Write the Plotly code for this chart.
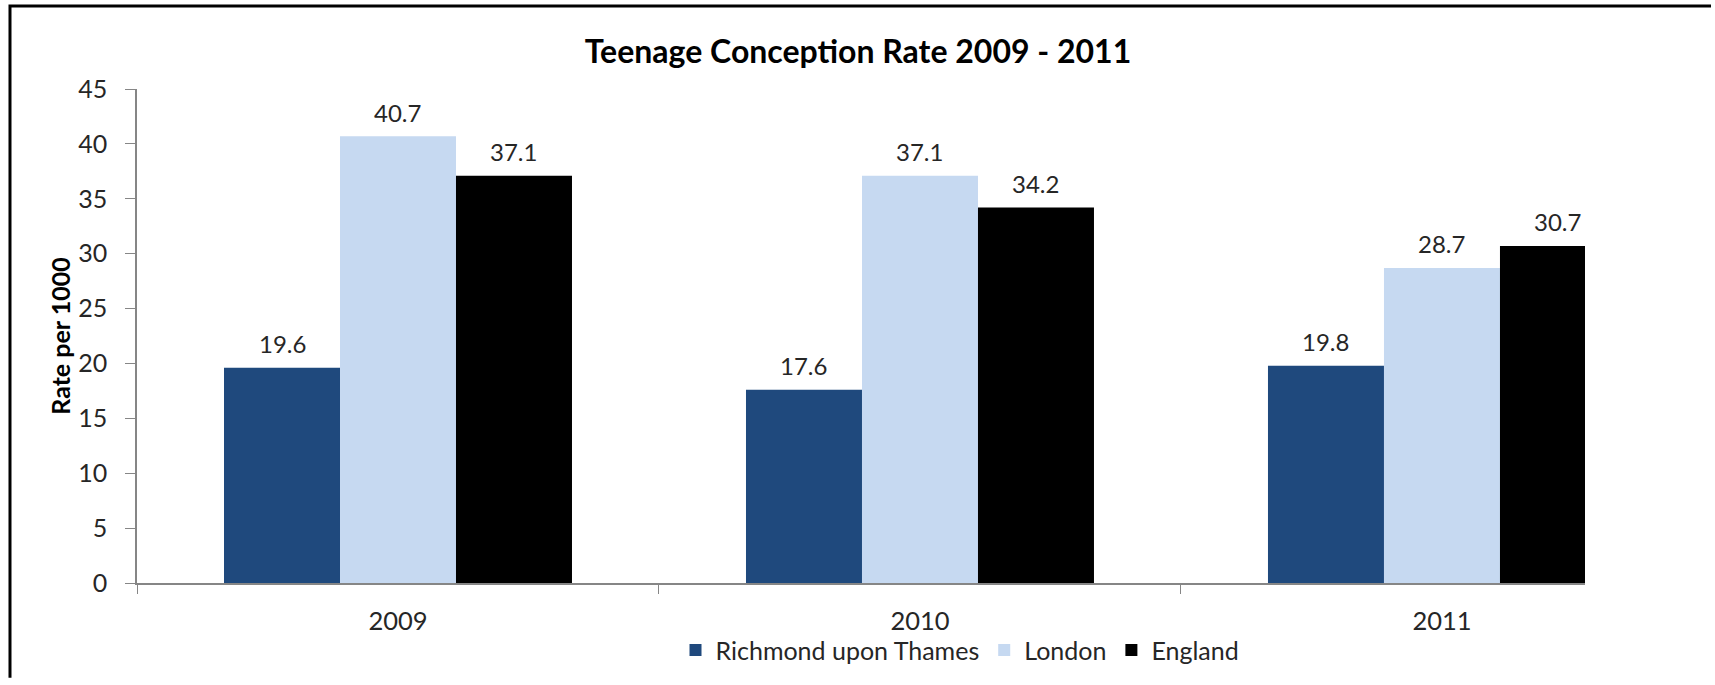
import plotly.graph_objects as go

# ---- data ----
years = ["2009", "2010", "2011"]
series_names = ["Richmond upon Thames", "London", "England"]
richmond = [19.6, 17.6, 19.8]
london = [40.7, 37.1, 28.7]
england = [37.1, 34.2, 30.7]
y_ticks = [0, 5, 10, 15, 20, 25, 30, 35, 40, 45]

colors = ["#1F497D", "#C6D9F1", "#000000"]
values = [richmond, london, england]

# ---- layout geometry (pixels) ----
W, H = 1715, 685
L, R, T, B = 137, 1585, 89, 589
FONT = "Lato"
TXT = "#262626"
AX = "#868686"
BARGAP = 1 / 3
n_series = len(series_names)
bar_w = (1 - BARGAP) / n_series


def pxx(x):
    return (x - L) / (R - L)


def pxy(y):
    return (B - y) / (B - T)


fig = go.Figure()
for name, vals, col in zip(series_names, values, colors):
    fig.add_trace(go.Bar(
        name=name, x=years, y=vals,
        marker=dict(color=col, line=dict(width=0)),
        hoverinfo="x+y+name",
    ))

# data labels above bars
annotations = []
for j, vals in enumerate(values):
    for i, v in enumerate(vals):
        annotations.append(dict(
            x=i + (j - (n_series - 1) / 2) * bar_w, y=v, xref="x", yref="y",
            text=f"{v:.1f}", showarrow=False, yanchor="middle", xanchor="center",
            yshift=24, font=dict(family=FONT, size=24, color=TXT),
        ))

# outer frame: left and top edges as one open path (paper coordinates)
frame_path = (
    f"M {pxx(10):.5f},{pxy(H):.5f} "
    f"L {pxx(10):.5f},{pxy(5):.5f} "
    f"L {pxx(1711):.5f},{pxy(5):.5f}"
)

fig.update_layout(
    width=W, height=H,
    margin=dict(l=L, r=W - R, t=T, b=H - B, pad=0),
    paper_bgcolor="white", plot_bgcolor="white",
    barmode="group", bargap=BARGAP, bargroupgap=0,
    font=dict(family=FONT, size=24, color=TXT),
    title=dict(
        text="<b>Teenage Conception Rate 2009 - 2011</b>",
        x=858 / W, xanchor="center", y=1 - 52 / H, yanchor="middle",
        xref="container", yref="container",
        font=dict(family=FONT, size=32, color="#000000"),
    ),
    xaxis=dict(
        type="category", range=[-0.5, 2.274],
        showline=True, linecolor=AX, linewidth=1.5,
        ticks="outside", tickson="boundaries", ticklen=9, tickcolor=AX, tickwidth=1.3,
        showgrid=False, zeroline=False,
        tickfont=dict(family=FONT, size=25.5, color=TXT),
        ticklabelstandoff=15,
    ),
    yaxis=dict(
        range=[0, 45], tickvals=y_ticks,
        showline=True, linecolor=AX, linewidth=1.5,
        ticks="outside", ticklen=10, tickcolor=AX, tickwidth=1.3,
        showgrid=False, zeroline=False,
        tickfont=dict(family=FONT, size=25, color=TXT),
        ticklabelstandoff=13,
        title=dict(text="<b>Rate per 1000</b>", standoff=0,
                   font=dict(family=FONT, size=25, color="#000000")),
    ),
    legend=dict(
        orientation="h", x=pxx(960), xanchor="center", y=pxy(657), yanchor="middle",
        font=dict(family=FONT, size=25, color=TXT),
        bgcolor="rgba(0,0,0,0)", traceorder="normal",
    ),
    annotations=annotations,
    shapes=[
        dict(type="path", xref="paper", yref="paper", path=frame_path,
             fillcolor="rgba(0,0,0,0)", line=dict(color="#000000", width=3)),
    ],
)

fig.write_html(
    "out.html",
    config={"displayModeBar": False},
    post_script=(
        "document.body.style.margin='0';"
        "document.body.style.overflow='hidden';"
        "document.documentElement.style.overflow='hidden';"
    ),
)
